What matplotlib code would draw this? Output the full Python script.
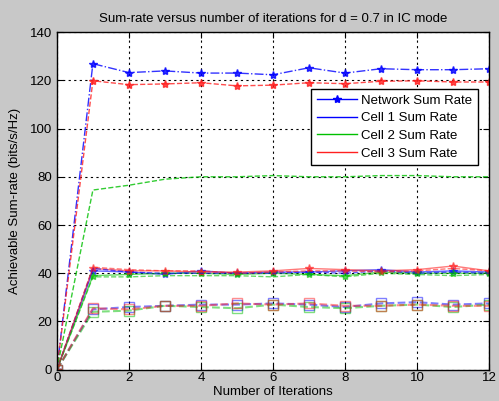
import numpy as np
import matplotlib
matplotlib.use('Agg')
import matplotlib.pyplot as plt
from matplotlib.lines import Line2D

plt.rcParams['font.family'] = ['Liberation Sans', 'DejaVu Sans']

iters = np.arange(0, 13)

# top group: network sum rates
net_blue = [0, 126.9, 123.2, 123.9, 123.0, 123.0, 122.3, 125.2, 123.0, 124.8, 124.4, 124.4, 124.8]
net_red = [0, 119.8, 118.2, 118.5, 119.0, 117.7, 118.0, 119.0, 118.6, 119.6, 119.8, 119.3, 119.3]
net_green = [0, 74.5, 76.5, 79.0, 80.0, 80.0, 80.5, 80.0, 80.0, 80.5, 80.5, 80.0, 80.0]

# ~40 group (solid, star markers)
c1_star = [0, 41.0, 40.5, 39.5, 41.0, 40.0, 40.5, 40.5, 41.0, 41.5, 40.5, 41.0, 40.5]
c2_star = [0, 39.0, 39.5, 40.0, 40.0, 39.5, 40.0, 39.5, 39.0, 40.5, 40.0, 40.0, 40.0]
c3_star = [0, 42.0, 41.0, 41.0, 40.5, 40.5, 41.0, 42.0, 41.5, 41.0, 41.5, 43.0, 41.0]
# ~40 group (dashed)
c1_dash = [0, 42.0, 40.5, 40.0, 40.0, 40.0, 40.0, 40.5, 40.0, 41.0, 40.0, 40.5, 40.0]
c2_dash = [0, 38.5, 38.5, 39.0, 39.0, 39.0, 38.5, 39.5, 38.5, 40.0, 39.5, 39.0, 39.5]
c3_dash = [0, 42.5, 41.5, 41.0, 41.0, 40.0, 40.5, 41.0, 41.0, 40.5, 41.0, 42.0, 41.0]

# ~27 group (dashed, square markers)
c1_sq = [0, 25.0, 26.0, 26.5, 27.0, 27.0, 27.5, 27.0, 26.0, 27.5, 28.0, 27.0, 27.5]
c2_sq = [0, 24.0, 24.5, 26.5, 26.0, 25.5, 27.0, 26.0, 25.5, 26.5, 27.0, 26.0, 27.0]
c3_sq = [0, 25.5, 25.0, 26.5, 26.5, 27.5, 27.0, 27.5, 26.5, 26.5, 27.0, 26.5, 26.5]

blue = '#0000ff'
green = '#00c000'
red = '#ff2020'

fig = plt.figure(figsize=(4.99, 4.01), dpi=100, facecolor='#c8c8c8')
ax = fig.add_axes([0.114, 0.078, 0.866, 0.842])

ax.plot(iters, net_blue, '-.', color=blue, marker='*', ms=6, lw=1, alpha=0.8)
ax.plot(iters, net_red, '--', color=red, marker='*', ms=6, lw=1, alpha=0.8)
ax.plot(iters, net_green, '--', color=green, lw=1, alpha=0.8)

ax.plot(iters, c1_star, '-', color=blue, marker='*', ms=6, lw=1, alpha=0.6)
ax.plot(iters, c2_star, '-', color=green, marker='*', ms=6, lw=1, alpha=0.6)
ax.plot(iters, c3_star, '-', color=red, marker='*', ms=6, lw=1, alpha=0.6)
ax.plot(iters, c1_dash, '--', color=blue, lw=1, alpha=0.6)
ax.plot(iters, c2_dash, '--', color=green, lw=1, alpha=0.6)
ax.plot(iters, c3_dash, '--', color=red, lw=1, alpha=0.6)

ax.plot(iters, c1_sq, '--', color=blue, marker='s', ms=7, mfc='none', lw=1.5, alpha=0.5)
ax.plot(iters, c2_sq, '--', color=green, marker='s', ms=7, mfc='none', lw=1.5, alpha=0.5)
ax.plot(iters, c3_sq, '--', color=red, marker='s', ms=7, mfc='none', lw=1.5, alpha=0.5)

ax.set_xlim(0, 12)
ax.set_ylim(0, 140)
ax.set_xticks(range(0, 13, 2))
ax.set_yticks(range(0, 141, 20))
ax.grid(True, color='black', linestyle=(0, (2, 3)), linewidth=0.8)
ax.tick_params(direction='in', labelsize=9.5, length=4, top=True, right=True)
ax.tick_params(axis='x', pad=2)
for s in ax.spines.values():
    s.set_linewidth(1)

ax.set_title('Sum-rate versus number of iterations for d = 0.7 in IC mode', fontsize=9.5, pad=7)
ax.set_xlabel('Number of Iterations', fontsize=9.5, labelpad=1)
ax.set_ylabel('Achievable Sum-rate (bits/s/Hz)', fontsize=9.5, labelpad=6)

handles = [
    Line2D([], [], color=blue, marker='*', ms=6, lw=1),
    Line2D([], [], color=blue, lw=1),
    Line2D([], [], color=green, lw=1),
    Line2D([], [], color=red, lw=1),
]
labels = ['Network Sum Rate', 'Cell 1 Sum Rate', 'Cell 2 Sum Rate', 'Cell 3 Sum Rate']
leg = ax.legend(handles, labels, loc='upper right', bbox_to_anchor=(0.975, 0.832),
                fontsize=9.5, frameon=True, fancybox=False, edgecolor='black',
                handlelength=3.0, borderpad=0.45, labelspacing=0.4, handletextpad=0.35,
                borderaxespad=0)
leg.get_frame().set_linewidth(1)
leg.get_frame().set_alpha(1)

fig.savefig('out.png', dpi=100, facecolor=fig.get_facecolor())
